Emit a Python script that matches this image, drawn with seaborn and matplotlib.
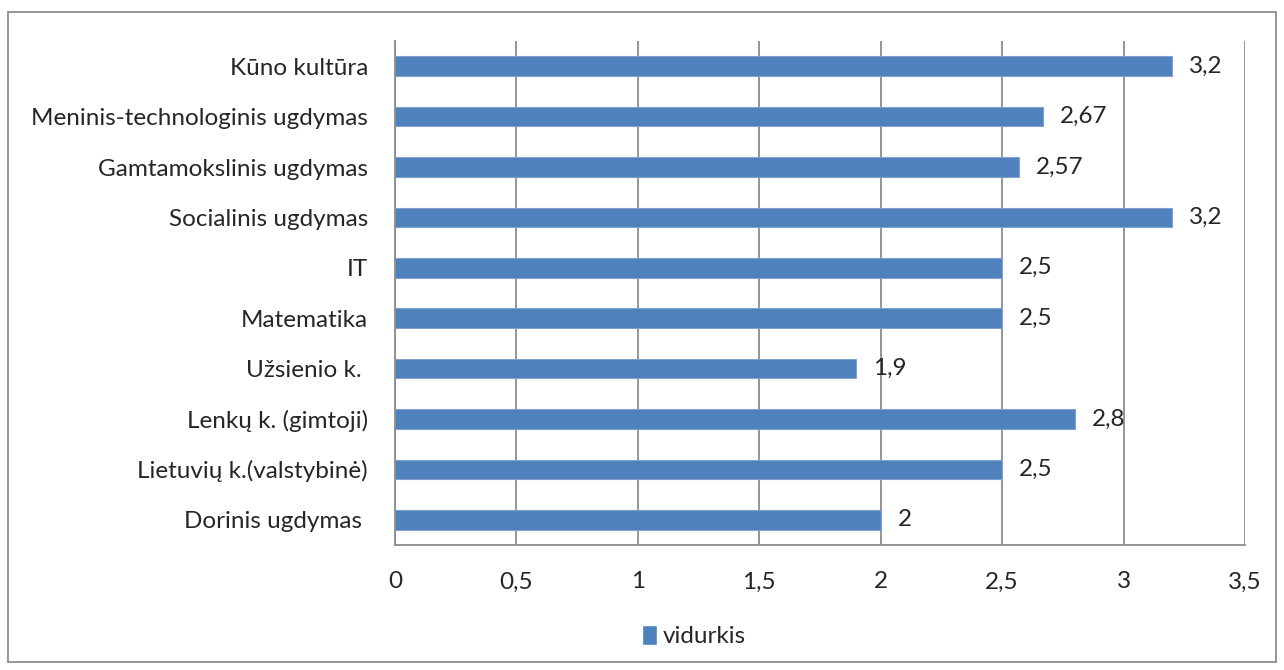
import matplotlib
matplotlib.use("Agg")
import matplotlib.pyplot as plt
import seaborn as sns
import pandas as pd
from matplotlib.patches import Rectangle, Patch
from matplotlib.ticker import FuncFormatter, MultipleLocator

categories = [
    "Kūno kultūra",
    "Meninis-technologinis ugdymas",
    "Gamtamokslinis ugdymas",
    "Socialinis ugdymas",
    "IT",
    "Matematika",
    "Užsienio k. ",
    "Lenkų k. (gimtoji)",
    "Lietuvių k.(valstybinė)",
    "Dorinis ugdymas ",
]
vidurkis = [3.2, 2.67, 2.57, 3.2, 2.5, 2.5, 1.9, 2.8, 2.5, 2.0]
series_name = "vidurkis"

BAR_COLOR = "#4F81BD"
GRID_COLOR = "#8C8C8C"
FS = 17.5

sns.set_style("white")
plt.rcParams["font.family"] = ["Lato", "DejaVu Sans"]

df = pd.DataFrame({"category": categories, "value": vidurkis})

fig = plt.figure(figsize=(12.84, 6.70), dpi=100)
ax = fig.add_axes([395 / 1284, 1 - 545 / 670, 850 / 1284, 504 / 670])

sns.barplot(data=df, x="value", y="category", orient="h", color=BAR_COLOR,
            saturation=1, width=0.39, edgecolor="#7EA1D0", linewidth=0.8, ax=ax)

def comma(v, pos=None):
    return f"{v:g}".replace(".", ",")

ax.set_xlim(0, 3.5)
ax.set_ylim(len(categories) - 0.5, -0.5)
ax.xaxis.set_major_locator(MultipleLocator(0.5))
ax.xaxis.set_major_formatter(FuncFormatter(comma))
ax.set_xlabel("")
ax.set_ylabel("")

# vertical gridlines like the excel chart
ax.grid(axis="x", color=GRID_COLOR, linewidth=1.3)
ax.set_axisbelow(True)

for side in ["top", "right"]:
    ax.spines[side].set_visible(False)
for side in ["left", "bottom"]:
    ax.spines[side].set_color(GRID_COLOR)
    ax.spines[side].set_linewidth(1.3)

# ticks between categories, labels at the centres
ax.set_yticks([i - 0.5 for i in range(len(categories) + 1)], minor=False)
ax.set_yticklabels([])
ax.set_yticks(range(len(categories)), minor=True)
ax.set_yticklabels(categories, minor=True)
ax.tick_params(axis="y", which="major", length=5, width=1.3, color=GRID_COLOR, direction="out")
ax.tick_params(axis="y", which="minor", length=0, pad=19.5, labelsize=FS)
ax.tick_params(axis="x", length=5, width=1.3, color=GRID_COLOR, direction="out", pad=14, labelsize=FS)

for i, v in enumerate(vidurkis):
    ax.annotate(comma(v), xy=(v, i), xytext=(12, 0), textcoords="offset points",
                ha="left", va="center", fontsize=FS)

fig.legend(handles=[Patch(facecolor=BAR_COLOR, label=series_name)], loc="center",
           bbox_to_anchor=(694 / 1284, 1 - 636 / 670), frameon=False, fontsize=FS,
           handlelength=0.62, handleheight=0.9, handletextpad=0.25)

fig.patches.append(Rectangle((8 / 1284, 1 - 662 / 670), 1268 / 1284, 650 / 670,
                             transform=fig.transFigure, fill=False,
                             edgecolor="#8C8C8C", linewidth=1.3))

fig.savefig("out.png", dpi=100)
